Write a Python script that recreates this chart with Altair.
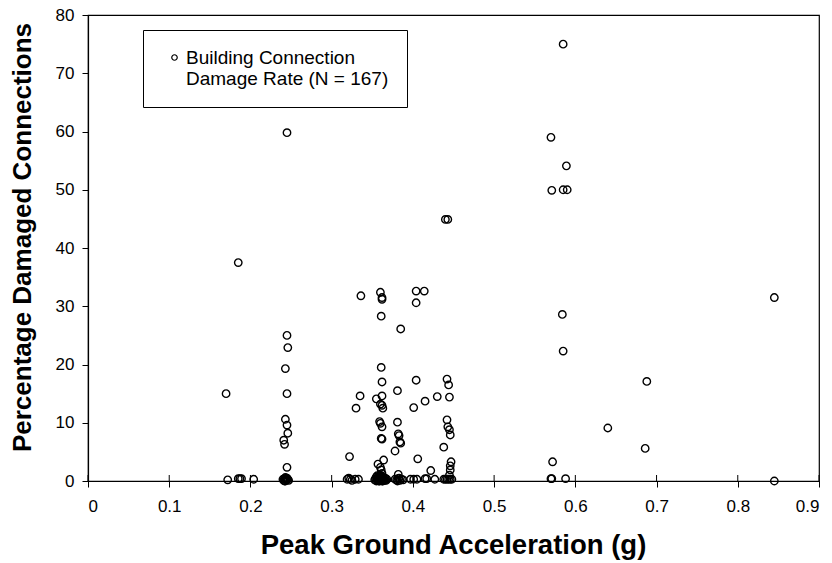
import altair as alt
import pandas as pd

# --- data (PGA in g, % damaged connections) ---
pga_a = [0.170, 0.172, 0.185, 0.185, 0.187, 0.189, 0.204]
pct_a = [15.0, 0.2, 37.5, 0.4, 0.4, 0.4, 0.3]

pga_b = [0.245, 0.245, 0.246, 0.243, 0.245, 0.243, 0.245, 0.246, 0.241, 0.242, 0.245,
         0.240, 0.241, 0.242, 0.243, 0.244, 0.245, 0.246, 0.247, 0.242, 0.243, 0.244, 0.245]
pct_b = [59.8, 25.0, 22.9, 19.3, 15.0, 10.6, 9.6, 8.2, 7.0, 6.3, 2.35,
         0.3, 0.1, 0.4, 0.0, 0.2, 0.5, 0.3, 0.1, 0.0, 0.6, 0.4, 0.2]

pga_c = [0.322, 0.330, 0.335, 0.336, 0.319, 0.323, 0.329, 0.333, 0.321, 0.325]
pct_c = [4.2, 12.5, 14.6, 31.8, 0.3, 0.3, 0.3, 0.3, 0.5, 0.1]

pga_d = [0.360, 0.362, 0.362, 0.361, 0.361, 0.362, 0.362, 0.355, 0.360, 0.362, 0.363,
         0.359, 0.360, 0.362, 0.361, 0.362, 0.364, 0.357, 0.360, 0.361, 0.362]
pct_d = [32.4, 31.5, 31.2, 28.3, 19.5, 17.0, 14.6, 14.1, 13.2, 13.0, 12.5,
         10.2, 9.9, 9.3, 7.3, 7.2, 3.6, 2.9, 2.35, 1.9, 1.3]

pga_d0 = [0.353, 0.354, 0.355, 0.356, 0.357, 0.358, 0.359, 0.360, 0.361, 0.362, 0.363,
          0.364, 0.365, 0.366, 0.367, 0.368, 0.355, 0.357, 0.359, 0.361, 0.363, 0.365,
          0.356, 0.358, 0.360, 0.362, 0.364, 0.359, 0.360, 0.361, 0.362, 0.363,
          0.358, 0.360, 0.362, 0.361, 0.360]
pct_d0 = [0.2, 0.4, 0.0, 0.3, 0.6, 0.1, 0.5, 0.2, 0.8, 0.3, 0.0,
          0.4, 0.2, 0.5, 0.1, 0.3, 0.7, 0.2, 0.0, 0.4, 0.6, 0.1,
          0.9, 0.3, 0.5, 0.0, 0.2, 0.6, 0.1, 0.3, 0.7, 0.4,
          0.0, 0.8, 0.2, 0.5, 1.0]

pga_e = [0.381, 0.381, 0.382, 0.383, 0.384, 0.385, 0.378, 0.382, 0.385,
         0.378, 0.380, 0.382, 0.384, 0.386, 0.388, 0.381, 0.383]
pct_e = [15.5, 10.1, 8.1, 7.8, 6.7, 6.5, 5.15, 1.15, 26.1,
         0.3, 0.2, 0.4, 0.1, 0.3, 0.2, 0.0, 0.5]

pga_f = [0.404, 0.414, 0.404, 0.404, 0.401, 0.406, 0.415, 0.430, 0.422,
         0.397, 0.401, 0.405, 0.415, 0.417, 0.427]
pct_f = [32.6, 32.6, 30.6, 17.3, 12.6, 3.8, 13.7, 14.5, 1.8,
         0.3, 0.3, 0.3, 0.4, 0.4, 0.3]

pga_g = [0.440, 0.443, 0.442, 0.444, 0.445, 0.442, 0.443, 0.445, 0.446, 0.438,
         0.447, 0.446, 0.446, 0.445, 0.438, 0.440, 0.442, 0.444, 0.446, 0.448]
pct_g = [44.9, 44.9, 17.5, 16.5, 14.4, 10.5, 9.3, 8.8, 7.9, 5.8,
         3.3, 2.6, 1.9, 1.0, 0.3, 0.3, 0.3, 0.3, 0.3, 0.3]

pga_h = [0.585, 0.570, 0.589, 0.571, 0.585, 0.590, 0.584, 0.585, 0.845,
         0.688, 0.640, 0.686, 0.572, 0.570, 0.571, 0.588, 0.845]
pct_h = [75.0, 59.0, 54.1, 49.9, 50.0, 50.0, 28.6, 22.3, 31.5,
         17.1, 9.1, 5.6, 3.3, 0.4, 0.4, 0.4, 0.0]

x_ticks = [0, 0.1, 0.2, 0.3, 0.4, 0.5, 0.6, 0.7, 0.8, 0.9]
y_ticks = [0, 10, 20, 30, 40, 50, 60, 70, 80]
series_name = "Building Connection Damage Rate (N = 167)"

pga = pga_a + pga_b + pga_c + pga_d + pga_d0 + pga_e + pga_f + pga_g + pga_h
pct = pct_a + pct_b + pct_c + pct_d + pct_d0 + pct_e + pct_f + pct_g + pct_h
df = pd.DataFrame({"pga": pga, "pct": pct, "series": series_name})
ticks_df = pd.DataFrame({"t": x_ticks})

FONT = "Liberation Sans"
W, H = 731, 466

x_scale = alt.Scale(domain=[0, 0.9], nice=False, zero=False)
y_scale = alt.Scale(domain=[0, 80], nice=False)

points = alt.Chart(df).mark_point(
    filled=False, shape="circle", size=55, strokeWidth=1.4, opacity=1
).encode(
    x=alt.X("pga:Q", scale=x_scale,
            axis=alt.Axis(values=x_ticks, format=".1~f", title="Peak Ground Acceleration (g)",
                          labelPadding=11, titleFontSize=27.5,
                          titleX=W / 2 - 0.5, titleY=64, titleBaseline="middle",
                          titleAlign="center")),
    y=alt.Y("pct:Q", scale=y_scale,
            axis=alt.Axis(values=y_ticks, format="d", title="Percentage Damaged Connections",
                          titleX=-66, titleY=222, titleAngle=-90, titleBaseline="middle",
                          titleAlign="center")),
    color=alt.Color("series:N", scale=alt.Scale(range=["black"]),
                    legend=alt.Legend(
                        title=None, orient="none", legendX=55, legendY=15,
                        labelExpr="['Building Connection', 'Damage Rate (N = 167)\u00a0\u00a0\u00a0']",
                        symbolType="circle", symbolSize=30, symbolStrokeWidth=1.2,
                        symbolFillColor="white", symbolStrokeColor="black",
                        labelFont=FONT, labelFontSize=19, labelColor="black",
                        labelLimit=400, labelOffset=2, symbolOffset=4,
                        strokeColor="black", fillColor="white", padding=18,
                    )),
)

inner_ticks = alt.Chart(ticks_df).mark_rule(color="black", strokeWidth=1).encode(
    x=alt.X("t:Q", scale=x_scale),
    y=alt.value(H - 6),
    y2=alt.value(H),
)

chart = alt.layer(inner_ticks, points).properties(
    width=W, height=H,
    autosize="none",
    background="white",
    padding={"left": 88, "top": 15, "right": 13, "bottom": 82},
).configure_view(
    stroke="black", strokeWidth=1.2
).configure_axis(
    grid=False, domainColor="black", domainWidth=1.2, tickColor="black", tickWidth=1,
    tickSize=6, labelFont=FONT, labelFontSize=17, labelColor="black", labelPadding=8,
    titleFont=FONT, titleFontSize=26, titleFontWeight="bold", titleColor="black",
)

chart.save("out.html", embed_options={"renderer": "svg", "actions": False})
